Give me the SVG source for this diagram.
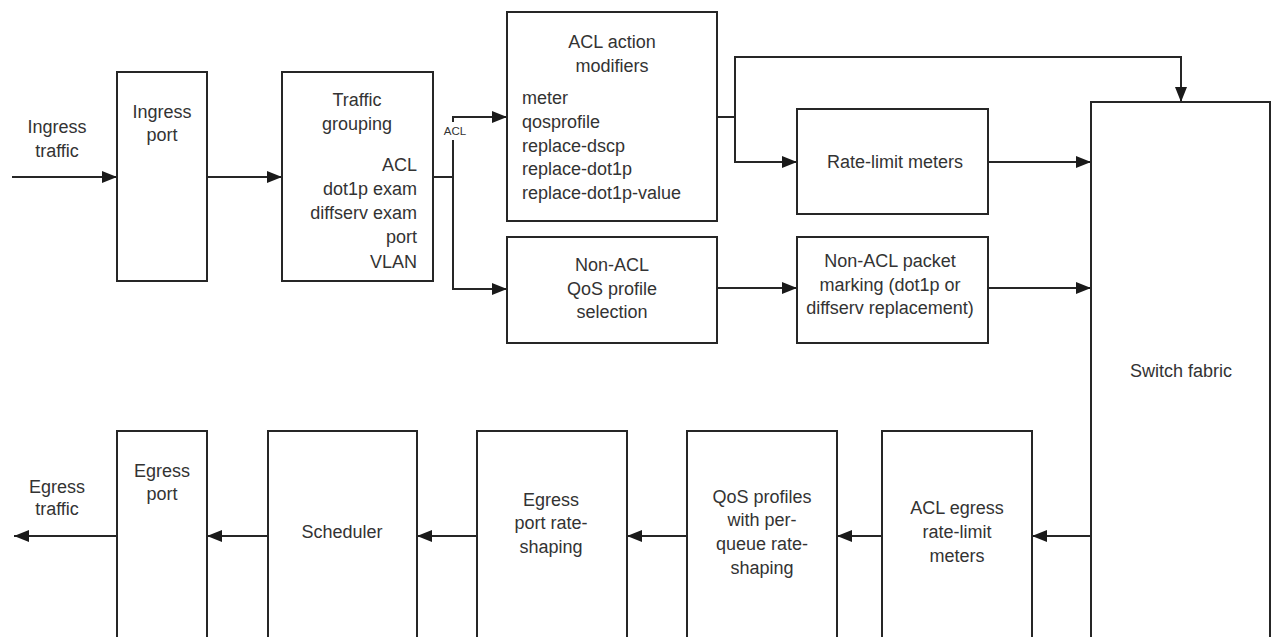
<svg xmlns="http://www.w3.org/2000/svg" width="1275" height="637" viewBox="0 0 1275 637">
<style>
.box{fill:#fff;stroke:#262626;stroke-width:2}
.ln{fill:none;stroke:#262626;stroke-width:2}
.arr{marker-end:url(#ah)}
text{font-family:"Liberation Sans",Arial,sans-serif;font-size:18px;fill:#333}
.c{text-anchor:middle}
.r{text-anchor:end}
.s{font-size:11.5px}
</style>
<defs>
<marker id="ah" markerUnits="userSpaceOnUse" markerWidth="16" markerHeight="14" refX="15" refY="7" orient="auto">
<path d="M0,1 L15,7 L0,13 Z" fill="#1a1a1a"/>
</marker>
</defs>
<rect width="1275" height="637" fill="#fff"/>
<g id="connectors">
<path class="ln arr" d="M12,177 H117"/>
<path class="ln arr" d="M207,177 H282"/>
<path class="ln" d="M433,177 H453"/>
<path class="ln arr" d="M453,122 V117 H507"/>
<path class="ln arr" d="M453,140 V289 H507"/>
<path class="ln" d="M717,117 H735"/>
<path class="ln arr" d="M735,162 V57 H1181 V102"/>
<path class="ln arr" d="M735,117 V162 H797"/>
<path class="ln arr" d="M988,162 H1091"/>
<path class="ln arr" d="M717,288 H797"/>
<path class="ln arr" d="M988,288 H1091"/>
<path class="ln arr" d="M1091,536 H1032"/>
<path class="ln arr" d="M882,536 H837"/>
<path class="ln arr" d="M687,536 H627"/>
<path class="ln arr" d="M477,536 H417"/>
<path class="ln arr" d="M268,536 H207"/>
<path class="ln arr" d="M117,536 H14"/>
<text class="c s" x="455" y="135">ACL</text>
</g>
<g id="ingress-traffic">
<text class="c" x="57" y="133">Ingress</text>
<text class="c" x="57" y="157">traffic</text>
</g>
<g id="ingress-port">
<rect class="box" x="117" y="72" width="90" height="209"/>
<text class="c" x="162" y="118">Ingress</text>
<text class="c" x="162" y="141">port</text>
</g>
<g id="traffic-grouping">
<rect class="box" x="282" y="72" width="151" height="209"/>
<text class="c" x="357" y="106">Traffic</text>
<text class="c" x="357" y="130">grouping</text>
<text class="r" x="417" y="171">ACL</text>
<text class="r" x="417" y="195">dot1p exam</text>
<text class="r" x="417" y="219">diffserv exam</text>
<text class="r" x="417" y="243">port</text>
<text class="r" x="417" y="268">VLAN</text>
</g>
<g id="acl-action-modifiers">
<rect class="box" x="507" y="12" width="210" height="209"/>
<text class="c" x="612" y="48">ACL action</text>
<text class="c" x="612" y="72">modifiers</text>
<text x="522" y="104">meter</text>
<text x="522" y="128">qosprofile</text>
<text x="522" y="152">replace-dscp</text>
<text x="522" y="175">replace-dot1p</text>
<text x="522" y="199">replace-dot1p-value</text>
</g>
<g id="non-acl-qos">
<rect class="box" x="507" y="237" width="210" height="106"/>
<text class="c" x="612" y="271">Non-ACL</text>
<text class="c" x="612" y="295">QoS profile</text>
<text class="c" x="612" y="318">selection</text>
</g>
<g id="rate-limit-meters">
<rect class="box" x="797" y="109" width="191" height="105"/>
<text class="c" x="895" y="168">Rate-limit meters</text>
</g>
<g id="non-acl-marking">
<rect class="box" x="797" y="237" width="191" height="106"/>
<text class="c" x="890" y="267">Non-ACL packet</text>
<text class="c" x="890" y="291">marking (dot1p or</text>
<text class="c" x="890" y="314">diffserv replacement)</text>
</g>
<g id="switch-fabric">
<rect class="box" x="1091" y="102" width="179" height="600"/>
<text class="c" x="1181" y="377">Switch fabric</text>
</g>
<g id="acl-egress">
<rect class="box" x="882" y="431" width="150" height="260"/>
<text class="c" x="957" y="514">ACL egress</text>
<text class="c" x="957" y="538">rate-limit</text>
<text class="c" x="957" y="562">meters</text>
</g>
<g id="qos-profiles">
<rect class="box" x="687" y="431" width="150" height="260"/>
<text class="c" x="762" y="503">QoS profiles</text>
<text class="c" x="762" y="526">with per-</text>
<text class="c" x="762" y="550">queue rate-</text>
<text class="c" x="762" y="574">shaping</text>
</g>
<g id="egress-rate-shaping">
<rect class="box" x="477" y="431" width="150" height="260"/>
<text class="c" x="551" y="506">Egress</text>
<text class="c" x="551" y="529">port rate-</text>
<text class="c" x="551" y="553">shaping</text>
</g>
<g id="scheduler">
<rect class="box" x="268" y="431" width="149" height="260"/>
<text class="c" x="342" y="538">Scheduler</text>
</g>
<g id="egress-port">
<rect class="box" x="117" y="431" width="90" height="260"/>
<text class="c" x="162" y="477">Egress</text>
<text class="c" x="162" y="500">port</text>
</g>
<g id="egress-traffic">
<text class="c" x="57" y="493">Egress</text>
<text class="c" x="57" y="515">traffic</text>
</g>
</svg>
